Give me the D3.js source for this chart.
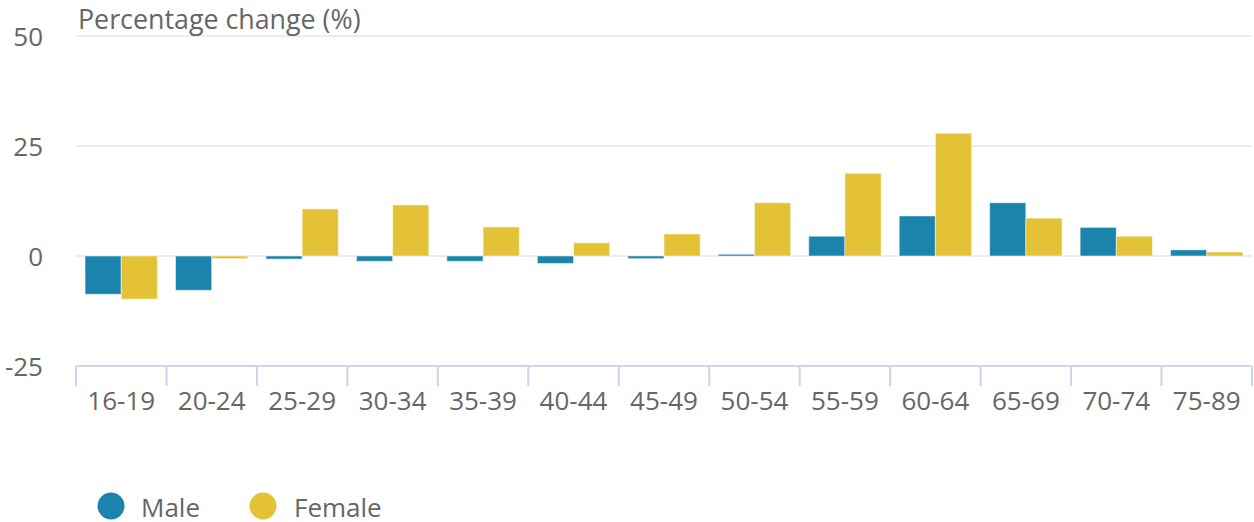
<!DOCTYPE html>
<html>
<head>
<meta charset="utf-8">
<script src="https://cdn.jsdelivr.net/npm/d3@7"></script>
<style>
  body { margin: 0; background: #fff; }
  svg { display: block; font-family: "Open Sans", sans-serif; }
</style>
</head>
<body>
<div id="chart"></div>
<script>
// age groups and % change by sex
const ageGroups = ["16-19", "20-24", "25-29", "30-34", "35-39", "40-44", "45-49",
                   "50-54", "55-59", "60-64", "65-69", "70-74", "75-89"];
const male   = [-8.7, -7.8, -0.7, -1.2, -1.2, -1.7, -0.6, 0.4, 4.5, 9.1, 12.1, 6.5, 1.4];
const female = [-9.8, -0.6, 10.7, 11.6, 6.6, 3.0, 5.0, 12.1, 18.8, 27.9, 8.6, 4.5, 0.9];
const yTicks = [-25, 0, 25, 50];
const seriesNames = ["Male", "Female"];

const width = 1254;
const height = 522;
const margin = { top: 36, right: 2, bottom: 156, left: 76 };

const colors = { Male: "#1a84ac", Female: "#e4c236" };

const svg = d3.select("#chart")
    .append("svg")
    .attr("width", width)
    .attr("height", height);

// scales
const x = d3.scaleBand()
    .domain(ageGroups)
    .range([margin.left, width - margin.right]);

const x1 = d3.scaleBand()
    .domain(seriesNames)
    .range([0, x.bandwidth()])
    .paddingOuter(0.25);

const y = d3.scaleLinear()
    .domain([-25, 50])
    .range([height - margin.bottom, margin.top]);

// gridlines
svg.append("g")
    .selectAll("line")
    .data(yTicks.filter(d => d !== -25))
    .join("line")
        .attr("x1", margin.left)
        .attr("x2", width - margin.right)
        .attr("y1", d => y(d))
        .attr("y2", d => y(d))
        .attr("stroke", "#e6e6e6")
        .attr("stroke-width", 1.5);

// y labels
svg.append("g")
    .selectAll("text")
    .data(yTicks)
    .join("text")
        .attr("x", 43)
        .attr("y", d => y(d) + 9.5)
        .attr("text-anchor", "end")
        .attr("font-size", 26)
        .attr("fill", "#666")
        .text(d => d);

// title
svg.append("text")
    .attr("x", 78)
    .attr("y", 29)
    .attr("font-size", 26.8)
    .attr("fill", "#666")
    .text("Percentage change (%)");

// bars
const rows = ageGroups.map((g, i) => ({ group: g, values: [
    { name: "Male", value: male[i] },
    { name: "Female", value: female[i] }
]}));

svg.append("g")
    .selectAll("g")
    .data(rows)
    .join("g")
        .attr("transform", d => `translate(${x(d.group)},0)`)
    .selectAll("rect")
    .data(d => d.values)
    .join("rect")
        .attr("x", d => x1(d.name))
        .attr("width", x1.bandwidth())
        .attr("y", d => y(Math.max(0, d.value)))
        .attr("height", d => Math.abs(y(d.value) - y(0)))
        .attr("fill", d => colors[d.name])
        .attr("stroke", "#fff")
        .attr("stroke-opacity", 0.5)
        .attr("stroke-width", 1);

// x axis
const xAxis = svg.append("g")
    .attr("transform", `translate(0, ${height - margin.bottom})`);

xAxis.append("line")
    .attr("x1", margin.left)
    .attr("x2", width - margin.right)
    .attr("stroke", "#ccd6eb")
    .attr("stroke-width", 2);

xAxis.selectAll("line.tick")
    .data(ageGroups.concat([null]))
    .join("line")
        .attr("class", "tick")
        .attr("x1", (d, i) => i < ageGroups.length ? x(d) : x.range()[1])
        .attr("x2", (d, i) => i < ageGroups.length ? x(d) : x.range()[1])
        .attr("y1", 0)
        .attr("y2", 20)
        .attr("stroke", "#ccd6eb")
        .attr("stroke-width", 2);

xAxis.selectAll("text")
    .data(ageGroups)
    .join("text")
        .attr("x", d => x(d) + x.bandwidth() / 2)
        .attr("y", 44)
        .attr("text-anchor", "middle")
        .attr("font-size", 26)
        .attr("fill", "#666")
        .text(d => d);

// legend
const legend = svg.append("g")
    .selectAll("g")
    .data(seriesNames)
    .join("g")
        .attr("transform", (d, i) => `translate(${[111, 263][i]}, 506)`);

legend.append("circle")
    .attr("r", 13.5)
    .attr("fill", d => colors[d]);

legend.append("text")
    .attr("x", (d, i) => [30, 31][i])
    .attr("y", 11)
    .attr("font-size", 26)
    .attr("fill", "#666")
    .text(d => d);
</script>
</body>
</html>
